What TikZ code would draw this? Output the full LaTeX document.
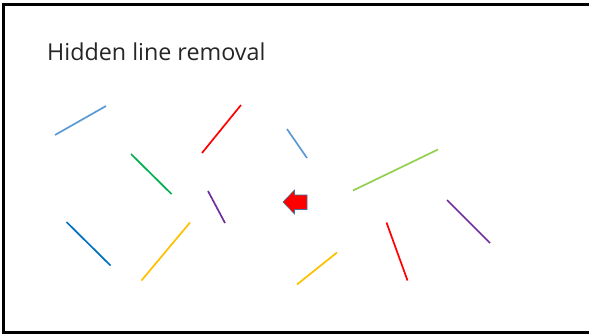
\documentclass[tikz,border=0pt]{standalone}
\usepackage{fontspec}
\setmainfont{Open Sans}
\definecolor{lblue}{HTML}{5B9BD5}
\definecolor{pgreen}{HTML}{00B050}
\definecolor{pblue}{HTML}{0070C0}
\definecolor{ppurple}{HTML}{7030A0}
\definecolor{pgold}{HTML}{FFC000}
\definecolor{lgreen}{HTML}{92D050}
\definecolor{arrowedge}{HTML}{41719C}
\tikzset{seg/.style={line width=1.7pt}}
\begin{document}
\begin{tikzpicture}[x=1pt,y=-1pt]
\useasboundingbox (0,0) rectangle (589,335);
\fill[white] (0,0) rectangle (589,335);
\draw[line width=3pt] (600,4.5) -- (3.5,4.5) -- (3.5,332.5) -- (600,332.5);
\node[anchor=base west, inner sep=0pt, font=\fontsize{23.3}{27}\selectfont, text=black!85] (title) at (47,60) {Hidden line removal};
% segments
\coordinate (a1) at (55,135); \coordinate (a2) at (106,106);
\draw[seg, lblue] (a1) -- (a2);
\coordinate (b1) at (202,153); \coordinate (b2) at (241,105);
\draw[seg, red] (b1) -- (b2);
\coordinate (c1) at (287,129); \coordinate (c2) at (307,158);
\draw[seg, lblue] (c1) -- (c2);
\coordinate (d1) at (131,154); \coordinate (d2) at (171.5,194);
\draw[seg, pgreen] (d1) -- (d2);
\coordinate (e1) at (208,191); \coordinate (e2) at (225,223);
\draw[seg, ppurple] (e1) -- (e2);
\coordinate (f1) at (353,190.5); \coordinate (f2) at (438,149.5);
\draw[seg, lgreen] (f1) -- (f2);
\coordinate (g1) at (447,200); \coordinate (g2) at (490,243);
\draw[seg, ppurple] (g1) -- (g2);
\coordinate (h1) at (66.5,222); \coordinate (h2) at (110.5,265.5);
\draw[seg, pblue] (h1) -- (h2);
\coordinate (i1) at (141.5,280.5); \coordinate (i2) at (190,222.5);
\draw[seg, pgold] (i1) -- (i2);
\coordinate (j1) at (297,284.5); \coordinate (j2) at (337,252.5);
\draw[seg, pgold] (j1) -- (j2);
\coordinate (k1) at (386.5,222.5); \coordinate (k2) at (407.5,280.5);
\draw[seg, red] (k1) -- (k2);
% arrow
\draw[fill=red, draw=arrowedge, line width=0.6pt] (283,202) -- (294.5,190) -- (294.5,195) -- (307,195) -- (307,209.5) -- (294.5,209.5) -- (294.5,214) -- cycle;
\end{tikzpicture}
\end{document}
